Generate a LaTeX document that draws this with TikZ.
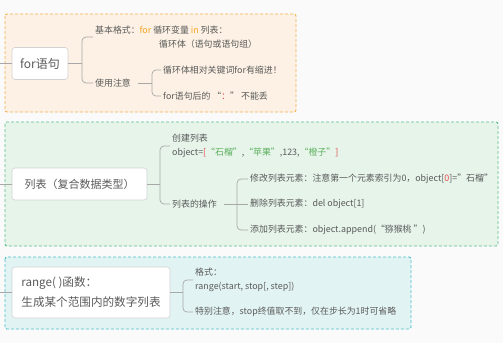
\documentclass[tikz,border=0pt]{standalone}
\usepackage{fontspec}
\setmainfont{Noto Sans CJK SC}
\definecolor{txt}{HTML}{5A5A5A}
\definecolor{bgc}{HTML}{FAFAFA}
\definecolor{ofill}{HTML}{FCF1E4}
\definecolor{oline}{HTML}{F5B24E}
\definecolor{gfill}{HTML}{E6F4EA}
\definecolor{gline}{HTML}{5CC08E}
\definecolor{cfill}{HTML}{E2F3F3}
\definecolor{cline}{HTML}{4DBFC6}
\definecolor{nline}{HTML}{D2D2D2}
\definecolor{conc}{HTML}{A8A8A8}
\definecolor{kwo}{HTML}{F5A623}
\definecolor{kwr}{HTML}{E5484D}
\definecolor{kwg}{HTML}{5DB05D}
\begin{document}
\begin{tikzpicture}[x=1pt,y=-1pt,
  mainbox/.style={draw=nline, fill=white, rounded corners=3pt, line width=0.6pt, text=txt, inner sep=0pt},
  leaf/.style={anchor=west, text=txt, inner sep=2pt, font=\fontsize{8.9}{14}\selectfont, align=left},
  conn/.style={draw=conc, line width=0.7pt},
  brk/.style={conn, rounded corners=4pt},
  area/.style={dashed, dash pattern=on 3pt off 2pt, line width=0.9pt, rounded corners=2pt}]
\useasboundingbox (0,0) rectangle (503,343);
\fill[bgc] (0,0) rectangle (503,343);
% areas
\draw[area, draw=oline, fill=ofill] (5,14) rectangle (296,112);
\draw[area, draw=gline, fill=gfill] (5,122) rectangle (498,246);
\draw[area, draw=cline, fill=cfill] (5,257) rectangle (411,329);
% main nodes
\node[mainbox, minimum width=56pt, minimum height=32pt, font=\fontsize{12}{14}\selectfont] (for) at (40,63.5) {for语句};
\node[mainbox, minimum width=135pt, minimum height=32pt, font=\fontsize{11}{14}\selectfont] (lst) at (79.5,184) {列表（复合数据类型）};
\node[mainbox, minimum width=158pt, minimum height=51pt, font=\fontsize{11.6}{20}\selectfont, align=left] (rng) at (91,292.5) {range( )函数：\\生成某个范围内的数字列表};
\coordinate (L1) at (0,63.5);
\coordinate (L2) at (0,184);
\coordinate (L3) at (0,292.5);
\draw[conn] (L1) -- (for.west);
\draw[conn] (L2) -- (lst.west);
\draw[conn] (L3) -- (rng.west);
% for branch
\node[leaf] (c11) at (93,37) {基本格式：{\color{kwo}for} 循环变量 {\color{kwo}in} 列表：\\\hspace*{64pt}循环体（语句或语句组）};
\node[leaf] (c12) at (93,83) {使用注意};
\node[leaf] (c121) at (161,70) {循环体相对关键词for有缩进！};
\node[leaf] (c122) at (161,96) {for语句后的 “{\color{kwr}：}” 不能丢};
\coordinate (b1) at (82,63.5);
\coordinate (b2) at (152,83);
\draw[conn] (for.east) -- (b1);
\draw[brk] (c11.west) -| (b1) |- (c12.west);
\draw[conn, shorten <=5pt] (c12.east) -- (b2);
\draw[brk] (c121.west) -| (b2) |- (c122.west);
% list branch
\node[leaf] (c21) at (170,146) {创建列表\\object={\color{kwr}[}{\color{kwg}“石榴”},{\color{kwg}“苹果”},123,{\color{kwg}“橙子”}{\color{kwr}]}};
\node[leaf] (c22) at (170,204) {列表的操作};
\node[leaf] (c221) at (248,179) {修改列表元素：注意第一个元素索引为0，object[{\color{kwr}0}]="石榴"};
\node[leaf] (c222) at (248,204) {删除列表元素：del object[1]};
\node[leaf] (c223) at (248,230) {添加列表元素：object.append(“猕猴桃 ”)};
\coordinate (b3) at (160,184);
\coordinate (b4) at (237,204);
\draw[conn] (lst.east) -- (b3);
\draw[brk] (c21.west) -| (b3) |- (c22.west);
\draw[conn, shorten <=5pt] (c22.east) -- (b4);
\draw[brk] (c221.west) -| (b4) |- (c223.west);
\draw[conn] (b4) -- (c222.west);
% range branch
\node[leaf] (c31) at (193,280) {格式：\\range(start, stop[, step])};
\node[leaf] (c32) at (193,312) {特别注意，stop终值取不到，仅在步长为1时可省略};
\coordinate (b5) at (183,292.5);
\draw[conn] (rng.east) -- (b5);
\draw[brk] (c31.west) -| (b5) |- (c32.west);
\end{tikzpicture}
\end{document}
